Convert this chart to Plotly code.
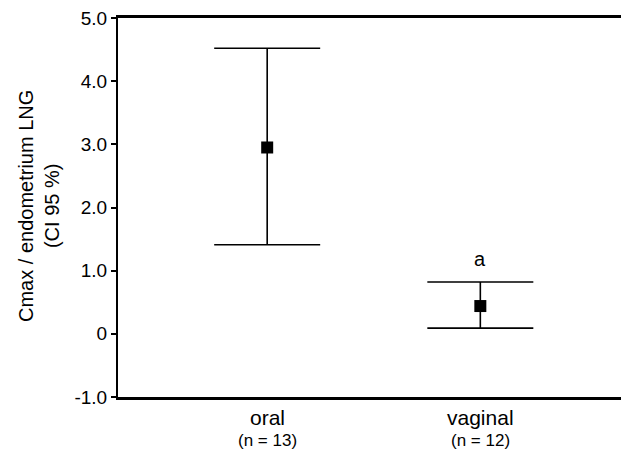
import plotly.graph_objects as go

categories = ["oral", "vaginal"]
n_labels = ["(n = 13)", "(n = 12)"]
means = [2.95, 0.44]
ci_upper = [4.52, 0.82]
ci_lower = [1.41, 0.09]
sig_labels = ["", "a"]
sig_y = [None, 1.18]
y_tickvals = [-1.0, 0, 1.0, 2.0, 3.0, 4.0, 5.0]
y_ticktext = ["-1.0", "0", "1.0", "2.0", "3.0", "4.0", "5.0"]

xpos = list(range(len(categories)))
err_plus = [u - m for u, m in zip(ci_upper, means)]
err_minus = [m - l for m, l in zip(means, ci_lower)]

FONT = "Liberation Sans, Arial, sans-serif"

fig = go.Figure()
fig.add_trace(go.Scatter(
    x=xpos, y=means, mode="markers",
    marker=dict(symbol="square", size=12, color="black"),
    error_y=dict(type="data", symmetric=False, array=err_plus, arrayminus=err_minus,
                 color="black", thickness=1.6, width=53),
    showlegend=False, hoverinfo="skip",
))

annotations = []
for i, (c, n) in enumerate(zip(categories, n_labels)):
    annotations.append(dict(x=xpos[i], y=0, xref="x", yref="paper", text=c,
                            showarrow=False, yanchor="middle", yshift=-20,
                            borderpad=0,
                            font=dict(size=21, color="black", family=FONT)))
    annotations.append(dict(x=xpos[i], y=0, xref="x", yref="paper", text=n,
                            showarrow=False, yanchor="middle", yshift=-43,
                            borderpad=0,
                            font=dict(size=17, color="black", family=FONT)))
for i, (s, sy) in enumerate(zip(sig_labels, sig_y)):
    if s:
        annotations.append(dict(x=xpos[i], y=sy, xref="x", yref="y", text=s,
                                showarrow=False, yanchor="middle",
                                font=dict(size=20, color="black", family=FONT)))
annotations.append(dict(x=0, y=0.504, xref="paper", yref="paper",
                        text="Cmax / endometrium LNG<br>(CI 95 %)",
                        textangle=-90, showarrow=False, xanchor="center", yanchor="middle",
                        xshift=-79,
                        font=dict(size=20, color="black", family=FONT)))

fig.update_layout(
    width=621, height=455,
    margin=dict(l=118, r=0, t=18, b=58),
    paper_bgcolor="white", plot_bgcolor="white",
    font=dict(family=FONT, color="black"),
    annotations=annotations,
    xaxis=dict(range=[-0.70, 1.66], showticklabels=False, ticks="", showgrid=False,
               zeroline=False, showline=True, linecolor="black", linewidth=2.5,
               mirror=True),
    yaxis=dict(range=[-1.0, 5.0], tickvals=y_tickvals, ticktext=y_ticktext,
               ticks="outside", ticklen=5, tickwidth=1.5, tickcolor="black",
               showgrid=False, zeroline=False, showline=True, linecolor="black",
               linewidth=2, tickfont=dict(size=19, color="black", family=FONT)),
)

fig.write_html("out.html", config={"displayModeBar": False},
               post_script="document.body.style.margin='0';document.body.style.overflow='hidden';")
